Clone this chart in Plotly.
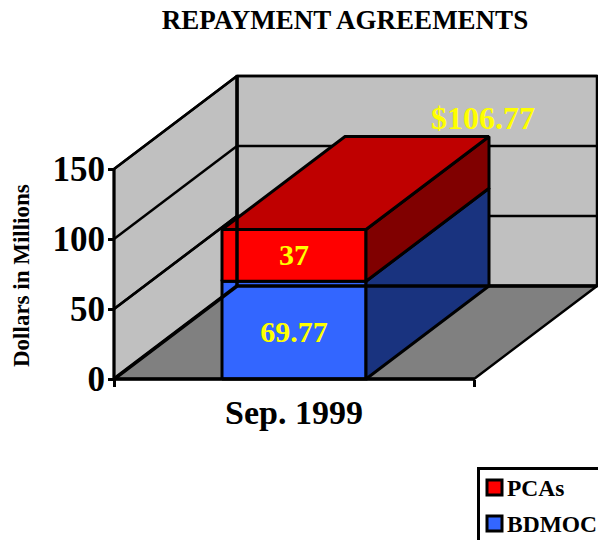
import plotly.graph_objects as go

# ---- data ----
categories = ["Sep. 1999"]
bdmoc_values = [69.77]
pca_values = [37]
total_labels = ["$106.77"]
y_ticks = [0, 50, 100, 150]
series_names = ["BDMOC", "PCAs"]

# ---- chart frame (pixels) ----
W, H = 598, 540
X0_PX, Y0_PX = 114, 379      # front-left corner of the floor
PX_PER_CAT, PX_PER_VAL = 360, 1.4
DEPTH_X, DEPTH_Y = 123 / PX_PER_CAT, 93 / PX_PER_VAL   # oblique depth offset in axis units
BAR_WIDTH = 0.4
Y_TOP = max(y_ticks)
FONT = "Liberation Serif"
INK = "black"


def pr(x, v, d=0.0):
    """Oblique projection of (category pos, value, depth 0..1) on the plot axes."""
    return x + d * DEPTH_X, v + d * DEPTH_Y


def poly(points, fill, name, lw=3):
    xy = [pr(*p) for p in points] + [pr(*points[0])]
    return go.Scatter(x=[a for a, _ in xy], y=[b for _, b in xy], mode="lines", fill="toself",
                      fillcolor=fill, line=dict(color=INK, width=lw), name=name,
                      hoverinfo="skip", showlegend=False)


def seg(p, q, lw=3, name="edge"):
    a, b = pr(*p), pr(*q)
    return go.Scatter(x=[a[0], b[0]], y=[a[1], b[1]], mode="lines",
                      line=dict(color=INK, width=lw), name=name,
                      hoverinfo="skip", showlegend=False)


fig = go.Figure()

# walls and floor
fig.add_trace(poly([(0, 0, 1), (1, 0, 1), (1, Y_TOP, 1), (0, Y_TOP, 1)], "#C0C0C0", "back wall", 2.5))
fig.add_trace(poly([(0, 0, 0), (0, 0, 1), (0, Y_TOP, 1), (0, Y_TOP, 0)], "#C0C0C0", "side wall", 2.5))
fig.add_trace(poly([(0, 0, 0), (1, 0, 0), (1, 0, 1), (0, 0, 1)], "#808080", "floor", 2.5))

# gridlines
for t in y_ticks[1:]:
    fig.add_trace(seg((0, t, 0), (0, t, 1), 2.5, "grid"))
    fig.add_trace(seg((0, t, 1), (1, t, 1), 2.5, "grid"))

# stacked bar
xl, xr = 0.5 - BAR_WIDTH / 2, 0.5 + BAR_WIDTH / 2
b, p = bdmoc_values[0], pca_values[0]
tot = b + p
fig.add_trace(poly([(xl, 0), (xr, 0), (xr, b), (xl, b)], "#3366FF", series_names[0]))
fig.add_trace(poly([(xr, 0, 0), (xr, 0, 1), (xr, b, 1), (xr, b, 0)], "#19337F", series_names[0] + " side"))
fig.add_trace(poly([(xl, b), (xr, b), (xr, tot), (xl, tot)], "#FF0000", series_names[1]))
fig.add_trace(poly([(xr, b, 0), (xr, b, 1), (xr, tot, 1), (xr, tot, 0)], "#800000", series_names[1] + " side"))
fig.add_trace(poly([(xl, tot, 0), (xr, tot, 0), (xr, tot, 1), (xl, tot, 1)], "#BF0000", series_names[1] + " top"))

# wall edges that the original draws in front of the bar
fig.add_trace(seg((0, 0, 1), (0, Y_TOP, 1), 3.5))
fig.add_trace(seg((0, 0, 1), (1, 0, 1), 3.5))
fig.add_trace(seg((0, 0, 0), (0, 0, 1), 3.5))
fig.add_trace(seg((0, y_ticks[1], 0), (0, y_ticks[1], 1), 2.5))

# axis lines
fig.add_trace(seg((0, 0), (1, 0), 3.5, "x axis line"))
fig.add_trace(seg((0, 0), (0, Y_TOP), 3, "y axis line"))

# data labels
lab_font = dict(family=FONT, size=30, color="#FFFF00", weight=700)
fig.add_trace(go.Scatter(x=[0.5], y=[b / 2 - 3], mode="text", text=[f"{b:g}"], textposition="middle center",
                         textfont=lab_font, hoverinfo="skip", showlegend=False, name="BDMOC label"))
fig.add_trace(go.Scatter(x=[0.5], y=[b + p / 2 - 1.5], mode="text", text=[f"{p:g}"], textposition="middle center",
                         textfont=lab_font, hoverinfo="skip", showlegend=False, name="PCAs label"))
lx, ly = pr(xr, tot + 11, 1)
fig.add_trace(go.Scatter(x=[lx - 0.017], y=[ly], mode="text", text=total_labels, textposition="middle center",
                         textfont=dict(family=FONT, size=32, color="#FFFF00", weight=700),
                         hoverinfo="skip", showlegend=False, name="total label"))


def px(x):
    return x / W


def py(y):
    return 1 - y / H


# legend, laid out by hand to match the clipped box of the original
shapes = [
    dict(type="rect", xref="paper", yref="paper", x0=px(478.5), x1=px(640), y0=py(468.5), y1=py(580),
         line=dict(color=INK, width=3), fillcolor="white", layer="above"),
    dict(type="rect", xref="paper", yref="paper", x0=px(487), x1=px(502), y0=py(480), y1=py(495),
         line=dict(color=INK, width=3), fillcolor="#FF0000", layer="above"),
    dict(type="rect", xref="paper", yref="paper", x0=px(487), x1=px(502), y0=py(516), y1=py(531),
         line=dict(color=INK, width=3), fillcolor="#3366FF", layer="above"),
]
annotations = [
    dict(text=series_names[1], xref="paper", yref="paper", x=px(505), y=py(488), xanchor="left", yanchor="middle",
         showarrow=False, font=dict(family=FONT, size=23.5, color=INK, weight=700)),
    dict(text=series_names[0], xref="paper", yref="paper", x=px(505), y=py(524), xanchor="left", yanchor="middle",
         showarrow=False, font=dict(family=FONT, size=23.5, color=INK, weight=700)),
    dict(text="Dollars in Millions", xref="paper", yref="paper", x=px(21), y=py(276), textangle=-90,
         xanchor="center", yanchor="middle", showarrow=False,
         font=dict(family=FONT, size=23, color=INK, weight=700)),
]

fig.update_layout(
    width=W, height=H, autosize=False,
    margin=dict(l=0, r=0, t=0, b=0),
    paper_bgcolor="white", plot_bgcolor="white",
    showlegend=False,
    shapes=shapes, annotations=annotations,
    title=dict(text="REPAYMENT AGREEMENTS", x=345 / W, y=py(20), xanchor="center", yanchor="middle",
               xref="paper", yref="paper",
               font=dict(family=FONT, size=27, color=INK, weight=700)),
    xaxis=dict(range=[-X0_PX / PX_PER_CAT, (W - X0_PX) / PX_PER_CAT], domain=[0, 1],
               anchor="free", position=py(Y0_PX), showgrid=False, zeroline=False, showline=False,
               tickmode="array", tickvals=[0.5], ticktext=categories, ticks="",
               ticklabelstandoff=10,
               tickfont=dict(family=FONT, size=34, color=INK, weight=700),
               minor=dict(tickmode="array", tickvals=[0, 1], ticks="outside", ticklen=7, tickwidth=3,
                          tickcolor=INK, showgrid=False)),
    yaxis=dict(range=[-(H - Y0_PX) / PX_PER_VAL, Y0_PX / PX_PER_VAL], domain=[0, 1],
               anchor="free", position=px(X0_PX), showgrid=False, zeroline=False, showline=False,
               tickmode="array", tickvals=y_ticks, ticks="outside", ticklen=6, tickwidth=3, tickcolor=INK,
               ticklabelstandoff=-4,
               tickfont=dict(family=FONT, size=35, color=INK, weight=700)),
)

fig.write_html("out.html", config=dict(displayModeBar=False),
               post_script="document.body.style.margin='0';document.body.style.overflow='hidden';")
